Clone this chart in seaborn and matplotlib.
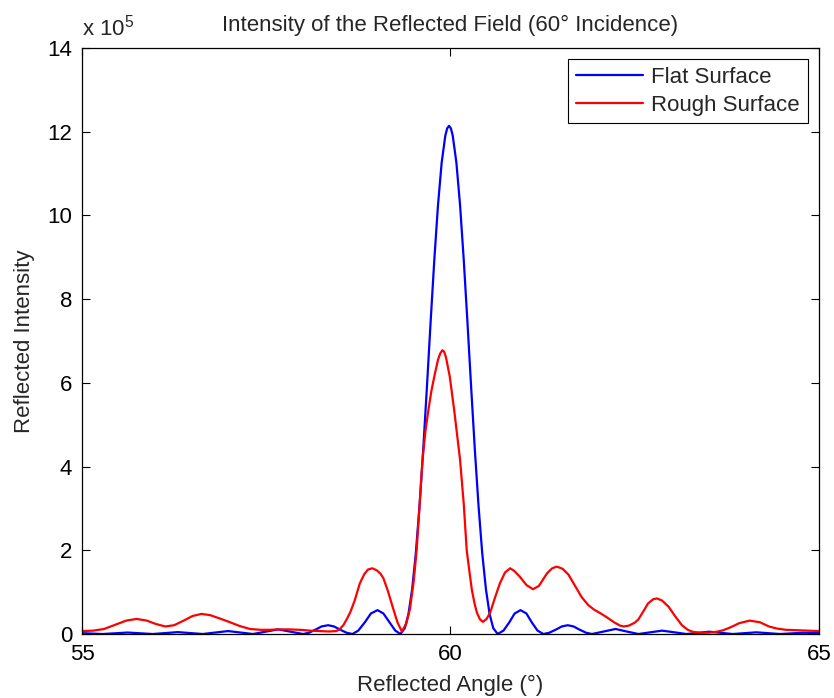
import matplotlib
matplotlib.use("Agg")
import matplotlib.pyplot as plt
import seaborn as sns
import pandas as pd

# ---------------- data (intensity in units of 1e5) ----------------
flat_angle = [55.00, 55.14, 55.28, 55.45, 55.62, 55.79, 55.96, 56.13, 56.30, 56.47,
              56.64, 56.81, 56.98, 57.15, 57.32, 57.49, 57.66, 57.83, 58.00, 58.08,
              58.17, 58.25, 58.34, 58.42, 58.50, 58.59, 58.67, 58.75, 58.84, 58.92,
              59.01, 59.09, 59.17, 59.25, 59.32, 59.38, 59.43, 59.48, 59.53, 59.58,
              59.63, 59.68, 59.73, 59.78, 59.83, 59.88, 59.93, 59.955, 59.98, 60.005,
              60.03, 60.08, 60.13, 60.18, 60.23, 60.28, 60.33, 60.38, 60.43, 60.48,
              60.53, 60.58, 60.64, 60.72, 60.80, 60.87, 60.95, 61.03, 61.10, 61.18,
              61.26, 61.34, 61.43, 61.51, 61.59, 61.67, 61.75, 61.84, 61.92, 62.08,
              62.24, 62.39, 62.55, 62.71, 62.87, 63.04, 63.20, 63.36, 63.51, 63.67,
              63.83, 63.99, 64.15, 64.31, 64.47, 64.63, 64.78, 64.90, 65.00]
flat_intensity = [0.02, 0.01, 0.00, 0.017, 0.035, 0.017, 0.00, 0.022, 0.045, 0.022,
                  0.00, 0.035, 0.07, 0.035, 0.00, 0.055, 0.11, 0.055, 0.00, 0.03,
                  0.105, 0.18, 0.21, 0.18, 0.105, 0.03, 0.00, 0.083, 0.285, 0.49,
                  0.57, 0.49, 0.285, 0.083, 0.00, 0.14, 0.48, 1.08, 1.94, 3.07,
                  4.41, 5.90, 7.45, 8.93, 10.24, 11.26, 11.91, 12.08, 12.14, 12.08,
                  11.91, 11.26, 10.24, 8.93, 7.45, 5.90, 4.41, 3.07, 1.94, 1.08,
                  0.48, 0.14, 0.00, 0.083, 0.285, 0.49, 0.57, 0.49, 0.285, 0.083,
                  0.00, 0.03, 0.105, 0.18, 0.21, 0.18, 0.105, 0.03, 0.00, 0.06,
                  0.12, 0.06, 0.00, 0.04, 0.08, 0.04, 0.00, 0.027, 0.055, 0.027,
                  0.00, 0.02, 0.04, 0.02, 0.00, 0.015, 0.03, 0.025, 0.02]

rough_angle = [55.00, 55.15, 55.30, 55.45, 55.60, 55.74, 55.88, 56.00, 56.13, 56.25,
               56.38, 56.50, 56.62, 56.74, 56.87, 57.01, 57.14, 57.28, 57.42, 57.55,
               57.66, 57.80, 57.96, 58.10, 58.23, 58.35, 58.45, 58.50, 58.55, 58.60,
               58.64, 58.70, 58.77, 58.83, 58.88, 58.94, 59.00, 59.05, 59.09, 59.15,
               59.22, 59.28, 59.34, 59.40, 59.45, 59.50, 59.54, 59.58, 59.62, 59.66,
               59.70, 59.74, 59.78, 59.83, 59.86, 59.89, 59.915, 59.94, 59.99, 60.05,
               60.09, 60.13, 60.18, 60.22, 60.26, 60.29, 60.33, 60.36, 60.40, 60.44,
               60.49, 60.54, 60.60, 60.67, 60.74, 60.81, 60.87, 60.94, 61.03, 61.12,
               61.20, 61.31, 61.38, 61.44, 61.52, 61.60, 61.69, 61.78, 61.87, 61.95,
               62.03, 62.12, 62.22, 62.30, 62.35, 62.42, 62.50, 62.55, 62.62, 62.68,
               62.75, 62.80, 62.87, 62.96, 63.05, 63.14, 63.22, 63.29, 63.40, 63.50,
               63.60, 63.70, 63.80, 63.92, 64.06, 64.20, 64.32, 64.43, 64.55, 64.70,
               64.85, 65.00]
rough_intensity = [0.07, 0.08, 0.12, 0.22, 0.32, 0.36, 0.32, 0.24, 0.18, 0.21,
                   0.32, 0.43, 0.48, 0.45, 0.37, 0.28, 0.19, 0.12, 0.10, 0.10,
                   0.11, 0.11, 0.10, 0.08, 0.07, 0.06, 0.07, 0.12, 0.22, 0.38,
                   0.52, 0.80, 1.21, 1.43, 1.54, 1.57, 1.52, 1.44, 1.33, 1.03,
                   0.62, 0.28, 0.06, 0.25, 0.60, 1.25, 2.00, 3.05, 4.16, 4.85,
                   5.35, 5.80, 6.15, 6.55, 6.70, 6.78, 6.74, 6.60, 6.15, 5.35,
                   4.75, 4.16, 3.10, 2.00, 1.45, 1.05, 0.70, 0.50, 0.35, 0.29,
                   0.36, 0.52, 0.85, 1.21, 1.47, 1.57, 1.50, 1.37, 1.17, 1.07,
                   1.15, 1.45, 1.57, 1.61, 1.56, 1.42, 1.15, 0.88, 0.69, 0.58,
                   0.50, 0.40, 0.28, 0.20, 0.18, 0.20, 0.27, 0.35, 0.55, 0.73,
                   0.83, 0.85, 0.80, 0.65, 0.42, 0.21, 0.10, 0.05, 0.03, 0.03,
                   0.05, 0.09, 0.16, 0.26, 0.32, 0.28, 0.18, 0.13, 0.10, 0.09,
                   0.08, 0.07]

series_labels = ["Flat Surface", "Rough Surface"]
x_ticks = [55, 60, 65]
y_ticks = [0, 2, 4, 6, 8, 10, 12, 14]

# ---------------- style ----------------
sns.set_style("white")
plt.rcParams["font.family"] = ["Liberation Sans", "DejaVu Sans"]
plt.rcParams["mathtext.fontset"] = "custom"
plt.rcParams["mathtext.rm"] = "Liberation Sans"
plt.rcParams["mathtext.it"] = "Liberation Sans"
FS = 16

fig = plt.figure(figsize=(8.34, 6.98), dpi=100)
ax = fig.add_axes([82 / 834, 1 - 634 / 698, (819 - 82) / 834, (634 - 48) / 698])

df_flat = pd.DataFrame({"angle": flat_angle, "intensity": flat_intensity})
df_rough = pd.DataFrame({"angle": rough_angle, "intensity": rough_intensity})

sns.lineplot(data=df_flat, x="angle", y="intensity", ax=ax, color=(0, 0, 1),
             linewidth=1.6, label=series_labels[0], estimator=None, sort=False)
sns.lineplot(data=df_rough, x="angle", y="intensity", ax=ax, color=(1, 0, 0),
             linewidth=1.6, label=series_labels[1], estimator=None, sort=False)

ax.set_xlim(55, 65)
ax.set_ylim(0, 14)
ax.set_xticks(x_ticks)
ax.set_yticks(y_ticks)
ax.set_xticklabels([str(t) for t in x_ticks], fontsize=FS)
ax.set_yticklabels([str(t) for t in y_ticks], fontsize=FS)
ax.tick_params(direction="in", length=6, width=0.8, top=True, right=True,
               bottom=True, left=True, colors="black")
ax.tick_params(axis="x", pad=7)
ax.tick_params(axis="y", pad=7)
for s in ax.spines.values():
    s.set_visible(True)
    s.set_color("black")
    s.set_linewidth(0.9)

ax.set_xlabel("Reflected Angle (°)", fontsize=FS, labelpad=7)
ax.set_ylabel("Reflected Intensity", fontsize=FS, labelpad=9)
ax.set_title("Intensity of the Reflected Field (60° Incidence)", fontsize=FS, pad=12)
ax.text(0.0, 1.012, r"x 10$^{5}$", transform=ax.transAxes, fontsize=FS,
        ha="left", va="bottom")

leg = ax.legend(loc="upper right", fontsize=FS, frameon=True, fancybox=False,
                edgecolor="black", framealpha=1, borderaxespad=0.5,
                handlelength=3.0, handletextpad=0.4, borderpad=0.35,
                labelspacing=0.3)
leg.get_frame().set_linewidth(0.8)

fig.savefig("out.png", dpi=100)
